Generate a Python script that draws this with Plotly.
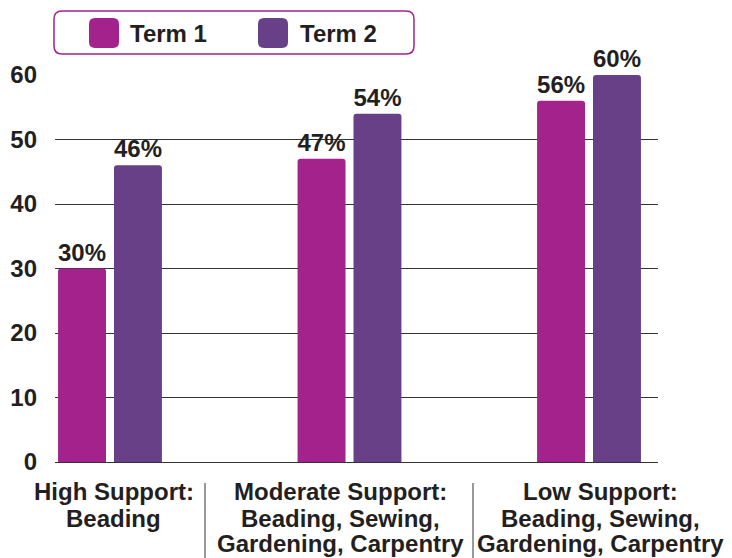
import plotly.graph_objects as go

# ---- data ----
categories = ["High Support", "Moderate Support", "Low Support"]
category_labels = [
    ["High Support:", "Beading"],
    ["Moderate Support:", "Beading, Sewing,", "Gardening, Carpentry"],
    ["Low Support:", "Beading, Sewing,", "Gardening, Carpentry"],
]
series_names = ["Term 1", "Term 2"]
term1 = [30, 47, 56]
term2 = [46, 54, 60]
y_ticks = [0, 10, 20, 30, 40, 50, 60]

# ---- styles ----
colors = ["#A3228B", "#674088"]
text_color = "#231F20"
font_family = "Liberation Sans, Arial, Helvetica, sans-serif"
label_xshift = [4, -9, 11]

VW, VH = 732, 558            # browser viewport
OFF = 8                      # page body margin
W, H = VW - OFF, VH - OFF    # figure fits inside the viewport
PL, PT, PR, PB = 55, 75, 658, 462   # plot area in page pixels
pw = PR - PL
ph = PB - PT
L = PL - OFF
T = PT - OFF
R = W - L - pw
B = H - T - ph


def px(x):
    return (x - PL) / pw


def py(y):
    return (PB - y) / ph


def rrect(x0, y0, x1, y1, r):
    pts = [
        ("M", [(x0 + r, y0)]),
        ("L", [(x1 - r, y0)]),
        ("Q", [(x1, y0), (x1, y0 + r)]),
        ("L", [(x1, y1 - r)]),
        ("Q", [(x1, y1), (x1 - r, y1)]),
        ("L", [(x0 + r, y1)]),
        ("Q", [(x0, y1), (x0, y1 - r)]),
        ("L", [(x0, y0 + r)]),
        ("Q", [(x0, y0), (x0 + r, y0)]),
    ]
    s = ""
    for cmd, ps in pts:
        s += cmd + " " + " ".join(f"{px(a):.5f},{py(b):.5f}" for a, b in ps) + " "
    return s + "Z"


fig = go.Figure()
for name, vals, col in zip(series_names, [term1, term2], colors):
    fig.add_trace(go.Bar(
        name=name,
        x=categories,
        y=vals,
        marker=dict(color=col, line=dict(width=0)),
        texttemplate="%{y}%",
        textposition="outside",
        cliponaxis=False,
        constraintext="none",
        textfont=dict(size=24, color=text_color, family=font_family, weight="bold"),
        showlegend=False,
    ))

shapes = []
annotations = []

# legend box (manual)
shapes.append(dict(type="path", xref="paper", yref="paper",
                   path=rrect(54, 11, 414, 54, 8),
                   line=dict(color=colors[0], width=1.5), fillcolor="white"))
leg_items = [(89, 128), (258, 298)]
for (sx, tx), name, col in zip(leg_items, series_names, colors):
    shapes.append(dict(type="path", xref="paper", yref="paper",
                       path=rrect(sx, 18, sx + 30, 48, 6),
                       line=dict(width=0), fillcolor=col))
    annotations.append(dict(xref="paper", yref="paper", x=px(tx), y=py(33),
                            text=name, showarrow=False, xanchor="left", yanchor="middle",
                            font=dict(size=24, color=text_color, family=font_family, weight="bold")))

# category labels, one annotation per line (tight line spacing)
line_y = [492, 518, 543]
for cat, lines, xs in zip(categories, category_labels, label_xshift):
    for i, ln in enumerate(lines):
        annotations.append(dict(xref="x", yref="paper", x=cat, y=py(line_y[i]),
                                text=ln, showarrow=False, xanchor="center", yanchor="middle",
                                xshift=xs,
                                font=dict(size=24, color=text_color, family=font_family,
                                          weight="bold")))

# separators between category labels
for sx in [205, 473]:
    shapes.append(dict(type="line", xref="paper", yref="paper",
                       x0=px(sx), x1=px(sx), y0=py(483), y1=py(VH),
                       line=dict(color="#333333", width=1)))

fig.update_layout(
    width=W, height=H,
    margin=dict(l=L, r=R, t=T, b=B, pad=0),
    paper_bgcolor="white", plot_bgcolor="white",
    font=dict(family=font_family, color=text_color, weight="bold"),
    barmode="group",
    bargap=0.533,
    bargroupgap=1 / 7,
    barcornerradius=3,
    shapes=shapes,
    annotations=annotations,
    showlegend=False,
)
fig.update_xaxes(
    range=[-0.2296, 2.288], automargin=False,
    showgrid=False, showline=True, linecolor="#333333", linewidth=1,
    ticks="", showticklabels=False,
)
fig.update_yaxes(
    range=[0, 60], tickvals=y_ticks, automargin=False,
    showgrid=True, gridcolor="#333333", gridwidth=1,
    zeroline=False, showline=False, ticks="",
    ticklabelstandoff=17,
    tickfont=dict(size=24, color=text_color, family=font_family, weight="bold"),
)

fig.write_html("out.html")
